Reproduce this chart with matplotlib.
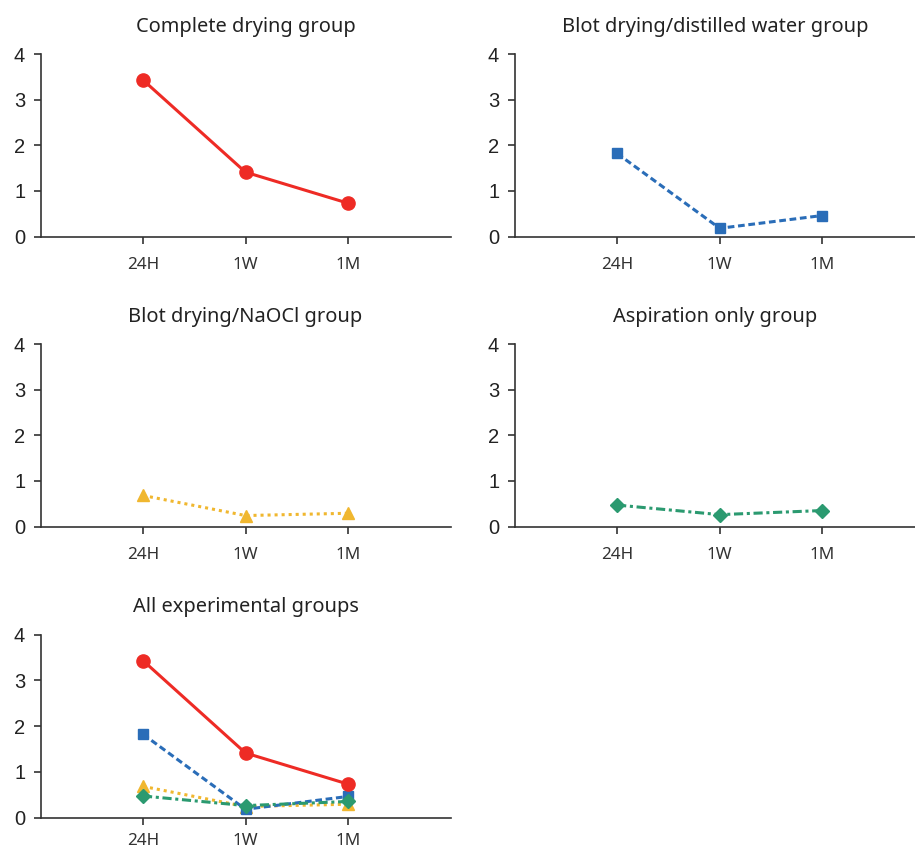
import matplotlib
matplotlib.use("Agg")
import matplotlib.pyplot as plt

timepoints = ["24H", "1W", "1M"]
complete_drying = [3.43, 1.41, 0.73]
blot_water = [1.82, 0.18, 0.46]
blot_naocl = [0.68, 0.24, 0.29]
aspiration_only = [0.47, 0.26, 0.35]
titles = ["Complete drying group", "Blot drying/distilled water group",
          "Blot drying/NaOCl group", "Aspiration only group",
          "All experimental groups"]

styles = {
    "complete": dict(color="#ee2b25", linestyle="-", marker="o", markersize=9.5, linewidth=2.2),
    "water": dict(color="#2a6db8", linestyle=(0, (2.2, 1.2)), marker="s", markersize=7.5, linewidth=2.2),
    "naocl": dict(color="#f0b72f", linestyle=(0, (1, 1.3)), marker="^", markersize=8.5, linewidth=2.2),
    "asp": dict(color="#2b9a70", linestyle=(0, (3, 1.2, 1, 1.2)), marker="D", markersize=7.5, linewidth=2.2),
}

W, H = 915, 849
fig = plt.figure(figsize=(W / 100, H / 100), dpi=100)

def axrect(left_px, right_px, top_px, bottom_px):
    return [left_px / W, 1 - bottom_px / H, (right_px - left_px) / W, (bottom_px - top_px) / H]

rects = [
    axrect(40.5, 450.5, 54, 236.5),
    axrect(514.5, 915, 54, 236.5),
    axrect(40.5, 450.5, 344, 526.5),
    axrect(514.5, 915, 344, 526.5),
    axrect(40.5, 450.5, 634.5, 817.5),
]
xmax = [4.0, (915 - 514.5) / 102.6, 4.0, (915 - 514.5) / 102.6, 4.0]
xpads = [9.5, 9.5, 9.5, 9.5, 6.5]

x = [1, 2, 3]
series_for_panel = [
    [("complete", complete_drying)],
    [("water", blot_water)],
    [("naocl", blot_naocl)],
    [("asp", aspiration_only)],
    [("naocl", blot_naocl), ("water", blot_water), ("asp", aspiration_only), ("complete", complete_drying)],
]

for i, r in enumerate(rects):
    ax = fig.add_axes(r)
    for key, vals in series_for_panel[i]:
        ax.plot(x, vals, clip_on=False, **styles[key])
    ax.set_xlim(0, xmax[i])
    ax.set_ylim(0, 4)
    ax.set_xticks(x)
    ax.set_xticklabels(timepoints, fontfamily="Noto Sans", fontsize=12.3, color="#333333")
    ax.set_yticks([0, 1, 2, 3, 4])
    ax.set_yticklabels(["0", "1", "2", "3", "4"], fontfamily="Liberation Sans", fontsize=14.5, color="#222222")
    for s in ["top", "right"]:
        ax.spines[s].set_visible(False)
    for s in ["left", "bottom"]:
        ax.spines[s].set_linewidth(1.2)
        ax.spines[s].set_color("#333333")
    ax.tick_params(axis="both", direction="out", length=5, width=1.2, color="#333333")
    ax.tick_params(axis="x", pad=xpads[i])
    ax.tick_params(axis="y", pad=6)
    ax.set_title(titles[i], fontfamily="Noto Sans", fontsize=14.4, color="#222222", pad=16)

fig.savefig("out.png", dpi=100, facecolor="white")
